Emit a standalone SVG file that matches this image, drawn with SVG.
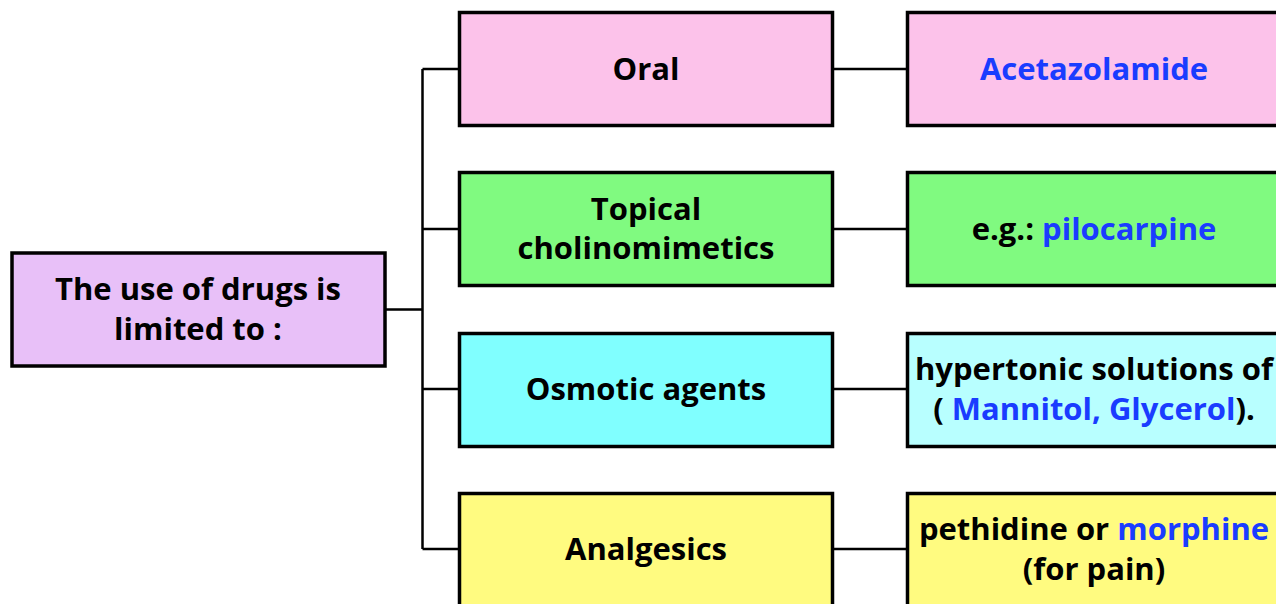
<svg xmlns="http://www.w3.org/2000/svg" width="1276" height="604" viewBox="0 0 1276 604">
<style>
.box{stroke:#000;stroke-width:3.5}
.t{font-family:"Open Sans","Liberation Sans",sans-serif;font-weight:bold;font-size:31px;fill:#000;text-anchor:middle}
.b{fill:#1a3cff}
.c{stroke:#000;stroke-width:2.5;fill:none}
</style>
<rect width="1276" height="604" fill="#fff"/>
<g id="connectors">
<path class="c" d="M385 309.5H422.5M422.5 69V549M422.5 69H459M422.5 229H459M422.5 389H459M422.5 549H459"/>
<path class="c" d="M833 69H907M833 229H907M833 389H907M833 549H907"/>
</g>
<g id="root">
<rect class="box" x="12" y="253" width="373" height="113" fill="#e8c0f8"/>
<text class="t" x="198" y="300">The use of drugs is</text>
<text class="t" x="198" y="340">limited to :</text>
</g>
<g id="oral">
<rect class="box" x="459.5" y="12.5" width="373" height="113" fill="#fcc2ea"/>
<text class="t" x="646" y="80">Oral</text>
</g>
<g id="acetazolamide">
<rect class="box" x="907.5" y="12.5" width="373" height="113" fill="#fcc2ea"/>
<text class="t b" x="1094" y="80">Acetazolamide</text>
</g>
<g id="topical">
<rect class="box" x="459.5" y="172.5" width="373" height="113" fill="#80fa80"/>
<text class="t" x="646" y="220">Topical</text>
<text class="t" x="646" y="259">cholinomimetics</text>
</g>
<g id="pilocarpine">
<rect class="box" x="907.5" y="172.5" width="373" height="113" fill="#80fa80"/>
<text class="t" x="1094" y="240">e.g.: <tspan class="b">pilocarpine</tspan></text>
</g>
<g id="osmotic">
<rect class="box" x="459.5" y="333.5" width="373" height="113" fill="#80ffff"/>
<text class="t" x="646" y="400">Osmotic agents</text>
</g>
<g id="hypertonic">
<rect class="box" x="907.5" y="333.5" width="373" height="113" fill="#b8ffff"/>
<text class="t" x="1094" y="380">hypertonic solutions of</text>
<text class="t" x="1094" y="420">( <tspan class="b">Mannitol, Glycerol</tspan>).</text>
</g>
<g id="analgesics">
<rect class="box" x="459.5" y="493.5" width="373" height="120" fill="#fffb80"/>
<text class="t" x="646" y="560">Analgesics</text>
</g>
<g id="pethidine">
<rect class="box" x="907.5" y="493.5" width="373" height="120" fill="#fffb80"/>
<text class="t" x="1094" y="540">pethidine or <tspan class="b">morphine</tspan></text>
<text class="t" x="1094" y="580">(for pain)</text>
</g>
</svg>
